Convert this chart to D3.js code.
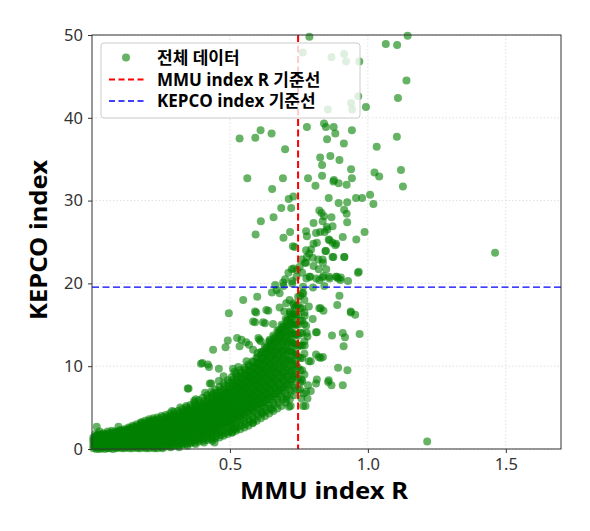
<!DOCTYPE html>
<html lang="ko">
<head>
<meta charset="utf-8">
<title>MMU index R vs KEPCO index</title>
<script src="https://cdn.jsdelivr.net/npm/d3@7"></script>
<style>
  body { margin: 0; background: #fff; }
  svg { display: block; }
  .tick text { font-family: "Noto Sans", "DejaVu Sans", sans-serif; font-size: 16.5px; fill: #333; }
</style>
</head>
<body>
<svg id="chart" width="590" height="531"></svg>
<script>
// axis settings
var xTicks = [0.5, 1.0, 1.5],
    yTicks = [0, 10, 20, 30, 40, 50];
var mmuThreshold = 0.747,
    kepcoThreshold = 19.55;
var legendLabels = ["전체 데이터", "MMU index R 기준선", "KEPCO index 기준선"];

// dense band: [x, [y values...]] read column by column
var bandCols = [
  [0.005, [0.1, 0.4, 0.8, 1.1, 1.4]],
  [0.02, [0.2, 0.5, 0.9, 1.2, 1.5, 1.7]],
  [0.035, [0.1, 0.4, 0.7, 1.0, 1.3, 1.6]],
  [0.05, [0.2, 0.5, 0.9, 1.2, 1.5, 1.8]],
  [0.065, [0.1, 0.4, 0.8, 1.1, 1.4, 1.7]],
  [0.08, [0.3, 0.6, 0.9, 1.3, 1.6, 1.9]],
  [0.095, [0.2, 0.5, 0.8, 1.2, 1.5, 1.8, 2.1]],
  [0.11, [0.3, 0.6, 1.0, 1.3, 1.7, 2.0]],
  [0.125, [0.2, 0.5, 0.9, 1.2, 1.6, 1.9, 2.2]],
  [0.14, [0.4, 0.7, 1.0, 1.4, 1.8, 2.1, 2.4]],
  [0.155, [0.3, 0.6, 1.0, 1.3, 1.7, 2.0, 2.3]],
  [0.17, [0.5, 0.8, 1.2, 1.5, 1.9, 2.2, 2.6]],
  [0.185, [0.4, 0.7, 1.1, 1.5, 1.8, 2.2, 2.5]],
  [0.2, [0.6, 0.9, 1.3, 1.6, 2.0, 2.4, 2.8]],
  [0.215, [0.5, 0.8, 1.2, 1.6, 2.0, 2.3, 2.7, 3.0]],
  [0.23, [0.7, 1.0, 1.4, 1.8, 2.1, 2.5, 2.9]],
  [0.245, [0.6, 1.0, 1.3, 1.7, 2.1, 2.5, 2.9, 3.2]],
  [0.26, [0.8, 1.1, 1.5, 1.9, 2.3, 2.7, 3.1]],
  [0.275, [0.9, 1.2, 1.6, 2.0, 2.4, 2.8, 3.2, 3.5]],
  [0.29, [1.0, 1.4, 1.8, 2.2, 2.6, 3.0, 3.4]],
  [0.305, [1.1, 1.5, 1.9, 2.3, 2.7, 3.1, 3.5, 3.9]],
  [0.32, [1.2, 1.6, 2.0, 2.4, 2.8, 3.2, 3.6, 4.0]],
  [0.335, [1.4, 1.8, 2.2, 2.6, 3.0, 3.4, 3.8, 4.2]],
  [0.35, [1.5, 1.9, 2.3, 2.7, 3.1, 3.5, 3.9, 4.4]],
  [0.365, [1.7, 2.1, 2.5, 2.9, 3.3, 3.7, 4.1, 4.6]],
  [0.38, [1.9, 2.3, 2.7, 3.1, 3.5, 3.9, 4.3, 4.8]],
  [0.395, [2.0, 2.4, 2.8, 3.2, 3.6, 4.0, 4.5, 5.0]],
  [0.41, [2.2, 2.6, 3.0, 3.4, 3.8, 4.2, 4.7, 5.2]],
  [0.425, [2.4, 2.8, 3.2, 3.6, 4.0, 4.5, 5.0, 5.5]],
  [0.44, [2.6, 3.0, 3.4, 3.8, 4.3, 4.8, 5.3, 5.8]],
  [0.455, [2.8, 3.2, 3.6, 4.1, 4.6, 5.1, 5.6, 6.1]],
  [0.47, [3.0, 3.4, 3.9, 4.4, 4.9, 5.4, 5.9, 6.4]],
  [0.485, [3.2, 3.7, 4.2, 4.7, 5.2, 5.7, 6.2, 6.8]],
  [0.5, [3.4, 3.9, 4.4, 4.9, 5.4, 6.0, 6.6, 7.2]],
  [0.515, [3.7, 4.2, 4.7, 5.2, 5.8, 6.4, 7.0, 7.6]],
  [0.53, [3.9, 4.4, 5.0, 5.6, 6.2, 6.8, 7.4, 8.0]],
  [0.545, [4.2, 4.7, 5.3, 5.9, 6.5, 7.1, 7.8, 8.5]],
  [0.56, [4.5, 5.0, 5.6, 6.2, 6.8, 7.5, 8.2, 8.9]],
  [0.575, [4.8, 5.4, 6.0, 6.6, 7.2, 7.9, 8.6, 9.4]],
  [0.59, [5.1, 5.7, 6.3, 7.0, 7.7, 8.4, 9.1, 9.9]],
  [0.605, [5.4, 6.0, 6.7, 7.4, 8.1, 8.8, 9.6, 10.4]],
  [0.62, [5.6, 6.3, 7.0, 7.8, 8.6, 9.4, 10.2, 11.0, 11.8]],
  [0.635, [6.0, 6.7, 7.5, 8.3, 9.1, 9.9, 10.7, 11.5, 12.3]],
  [0.65, [6.3, 7.1, 7.9, 8.7, 9.5, 10.3, 11.1, 11.9, 12.7]],
  [0.665, [6.6, 7.4, 8.3, 9.2, 10.1, 11.0, 11.9, 12.8, 13.4]],
  [0.68, [7.0, 7.8, 8.7, 9.6, 10.5, 11.4, 12.3, 13.2, 14.0]],
  [0.695, [7.4, 8.3, 9.2, 10.1, 11.0, 12.0, 13.0, 14.0, 14.8]],
  [0.71, [7.8, 8.8, 9.8, 10.8, 11.8, 12.8, 13.8, 14.8, 15.6]],
  [0.725, [8.4, 9.5, 10.6, 11.7, 12.8, 13.9, 15.0, 16.0]],
  [0.74, [9.0, 10.2, 11.4, 12.6, 13.8, 15.0, 16.2, 17.2]],
  [0.755, [8.0, 9.5, 11.0, 12.5, 14.0, 15.5, 17.0, 18.5]],
  [0.77, [9.0, 11.5, 13.0, 16.5, 18.0]]
];

// second pass of columns between the first ones (wider spread of the band)
var bandColsMid = [
  [0.012, [0.2, 0.6, 1.0, 1.4, 1.8]],
  [0.027, [0.0, 0.5, 0.9, 1.3, 1.7, 2.1]],
  [0.042, [0.3, 0.7, 1.1, 1.5, 1.9]],
  [0.057, [0.1, 0.5, 0.9, 1.3, 1.7, 2.1]],
  [0.072, [0.3, 0.7, 1.1, 1.5, 1.9, 2.2]],
  [0.087, [0.1, 0.5, 0.9, 1.3, 1.7, 2.1]],
  [0.102, [0.3, 0.7, 1.1, 1.5, 1.9, 2.3]],
  [0.117, [0.1, 0.5, 0.9, 1.3, 1.7, 2.1, 2.4]],
  [0.132, [0.3, 0.7, 1.1, 1.5, 1.9, 2.3, 2.6]],
  [0.147, [0.1, 0.5, 0.9, 1.3, 1.7, 2.1, 2.5, 2.8]],
  [0.162, [0.2, 0.6, 1.0, 1.4, 1.8, 2.2, 2.6, 3.0]],
  [0.177, [0.1, 0.5, 0.9, 1.3, 1.7, 2.1, 2.5, 2.9, 3.2]],
  [0.192, [0.2, 0.6, 1.0, 1.4, 1.8, 2.2, 2.6, 3.0, 3.4]],
  [0.207, [0.1, 0.5, 0.9, 1.3, 1.7, 2.1, 2.5, 2.9, 3.3, 3.6]],
  [0.222, [0.2, 0.6, 1.0, 1.4, 1.8, 2.2, 2.6, 3.0, 3.4, 3.7]],
  [0.237, [0.1, 0.5, 0.9, 1.3, 1.7, 2.1, 2.5, 2.9, 3.3, 3.8]],
  [0.252, [0.2, 0.6, 1.0, 1.4, 1.8, 2.2, 2.6, 3.0, 3.5, 4.0]],
  [0.267, [0.3, 0.7, 1.1, 1.5, 1.9, 2.3, 2.7, 3.1, 3.6, 4.1]],
  [0.282, [0.3, 0.7, 1.1, 1.5, 1.9, 2.4, 2.8, 3.2, 3.7, 4.3]],
  [0.297, [0.4, 0.8, 1.2, 1.6, 2.0, 2.5, 2.9, 3.4, 3.9, 4.5]],
  [0.312, [0.4, 0.8, 1.2, 1.7, 2.1, 2.6, 3.0, 3.5, 4.0, 4.6]],
  [0.327, [0.5, 0.9, 1.3, 1.8, 2.2, 2.7, 3.2, 3.7, 4.2, 4.8]],
  [0.342, [0.6, 1.0, 1.4, 1.9, 2.4, 2.9, 3.4, 3.9, 4.4, 5.0]],
  [0.357, [0.7, 1.1, 1.6, 2.1, 2.6, 3.1, 3.6, 4.1, 4.6, 5.3]],
  [0.372, [0.8, 1.3, 1.8, 2.3, 2.8, 3.3, 3.8, 4.3, 4.9, 5.6]],
  [0.387, [0.9, 1.4, 1.9, 2.4, 2.9, 3.5, 4.0, 4.6, 5.2, 5.9]],
  [0.402, [1.0, 1.5, 2.0, 2.6, 3.1, 3.7, 4.3, 4.9, 5.5, 6.2]],
  [0.417, [1.1, 1.6, 2.2, 2.8, 3.4, 4.0, 4.6, 5.2, 5.8, 6.5]],
  [0.432, [1.2, 1.8, 2.4, 3.0, 3.6, 4.2, 4.8, 5.5, 6.2, 6.9]],
  [0.447, [1.3, 1.9, 2.5, 3.1, 3.8, 4.4, 5.1, 5.8, 6.5, 7.2]],
  [0.462, [1.4, 2.0, 2.7, 3.3, 4.0, 4.7, 5.4, 6.1, 6.8, 7.5]],
  [0.477, [1.6, 2.2, 2.9, 3.6, 4.3, 5.0, 5.7, 6.4, 7.1, 7.9]],
  [0.492, [1.8, 2.5, 3.2, 3.9, 4.6, 5.3, 6.0, 6.8, 7.5, 8.3]],
  [0.507, [2.0, 2.7, 3.4, 4.1, 4.9, 5.6, 6.4, 7.2, 8.0, 8.7]],
  [0.522, [2.2, 2.9, 3.7, 4.4, 5.2, 6.0, 6.8, 7.6, 8.4, 9.1]],
  [0.537, [2.4, 3.2, 4.0, 4.8, 5.6, 6.4, 7.2, 8.0, 8.8, 9.5]],
  [0.552, [2.6, 3.4, 4.2, 5.1, 5.9, 6.7, 7.5, 8.3, 9.1, 9.8]],
  [0.567, [2.8, 3.6, 4.5, 5.4, 6.2, 7.0, 7.9, 8.7, 9.5, 10.2]],
  [0.582, [3.1, 3.9, 4.8, 5.7, 6.6, 7.5, 8.3, 9.1, 9.9, 10.6]],
  [0.597, [3.4, 4.3, 5.2, 6.1, 7.0, 7.9, 8.8, 9.6, 10.4, 11.1]],
  [0.612, [3.7, 4.6, 5.5, 6.4, 7.4, 8.3, 9.2, 10.1, 11.0, 11.7]],
  [0.627, [4.0, 5.0, 5.9, 6.9, 7.8, 8.8, 9.7, 10.6, 11.5, 12.4]],
  [0.642, [4.3, 5.3, 6.3, 7.3, 8.3, 9.3, 10.3, 11.2, 12.1, 13.0]],
  [0.657, [4.6, 5.6, 6.6, 7.7, 8.7, 9.8, 10.8, 11.8, 12.8, 13.7]],
  [0.672, [4.9, 6.0, 7.0, 8.1, 9.2, 10.3, 11.4, 12.4, 13.4, 14.3]],
  [0.687, [5.2, 6.3, 7.4, 8.6, 9.7, 10.8, 11.9, 13.0, 14.0, 15.0]],
  [0.702, [5.6, 6.7, 7.9, 9.1, 10.3, 11.4, 12.5, 13.6, 14.7, 15.7]],
  [0.717, [6.0, 7.2, 8.4, 9.6, 10.8, 12.0, 13.2, 14.3, 15.4, 16.4]],
  [0.732, [6.5, 7.7, 9.0, 10.3, 11.6, 12.8, 14.0, 15.2, 16.3, 17.4]],
  [0.747, [7.2, 8.5, 9.8, 11.1, 12.4, 13.7, 15.0, 16.2, 17.4, 18.4]],
  [0.762, [8.2, 9.5, 11.0, 12.5, 14.0, 15.5, 17.0]]
];

// third pass, filling the gaps so the core reads as solid
var bandColsFill = [
  [0.016, [0.0, 0.3, 0.7, 1.2, 1.6]],
  [0.031, [0.2, 0.6, 1.0, 1.4, 1.8]],
  [0.046, [0.0, 0.4, 0.8, 1.3, 1.7]],
  [0.061, [0.2, 0.6, 1.0, 1.5, 1.9]],
  [0.076, [0.0, 0.4, 0.8, 1.2, 1.7, 2.0]],
  [0.091, [0.2, 0.6, 1.0, 1.4, 1.9]],
  [0.106, [0.1, 0.5, 0.9, 1.3, 1.7, 2.2]],
  [0.121, [0.3, 0.7, 1.1, 1.5, 1.9, 2.3]],
  [0.136, [0.1, 0.5, 0.9, 1.3, 1.7, 2.1, 2.5]],
  [0.151, [0.3, 0.7, 1.1, 1.5, 1.9, 2.3, 2.7]],
  [0.166, [0.1, 0.4, 0.8, 1.2, 1.6, 2.0, 2.4, 2.8]],
  [0.181, [0.3, 0.7, 1.1, 1.5, 1.9, 2.3, 2.7, 3.0]],
  [0.196, [0.1, 0.4, 0.8, 1.2, 1.6, 2.0, 2.4, 2.8, 3.2]],
  [0.211, [0.3, 0.7, 1.1, 1.5, 1.9, 2.3, 2.7, 3.1, 3.4]],
  [0.226, [0.1, 0.4, 0.8, 1.2, 1.6, 2.0, 2.4, 2.8, 3.2, 3.5]],
  [0.241, [0.3, 0.7, 1.1, 1.5, 1.9, 2.3, 2.7, 3.1, 3.6]],
  [0.256, [0.1, 0.4, 0.8, 1.2, 1.6, 2.0, 2.4, 2.8, 3.3, 3.8]],
  [0.271, [0.5, 0.9, 1.3, 1.7, 2.1, 2.5, 2.9, 3.4, 3.9]],
  [0.286, [0.2, 0.5, 0.9, 1.3, 1.7, 2.1, 2.6, 3.0, 3.5, 4.0]],
  [0.301, [0.6, 1.0, 1.4, 1.8, 2.2, 2.7, 3.1, 3.6, 4.2]],
  [0.316, [0.2, 0.6, 1.0, 1.5, 1.9, 2.3, 2.8, 3.3, 3.8, 4.3]],
  [0.331, [0.7, 1.1, 1.6, 2.0, 2.5, 3.0, 3.5, 4.0, 4.5]],
  [0.346, [0.4, 0.8, 1.2, 1.7, 2.2, 2.6, 3.1, 3.6, 4.2, 4.7]],
  [0.361, [0.9, 1.4, 1.9, 2.4, 2.9, 3.4, 3.9, 4.4, 5.0]],
  [0.376, [0.6, 1.1, 1.6, 2.1, 2.6, 3.1, 3.6, 4.1, 4.6, 5.2]],
  [0.391, [1.2, 1.7, 2.2, 2.7, 3.2, 3.7, 4.3, 4.9, 5.5]],
  [0.406, [0.8, 1.3, 1.8, 2.3, 2.9, 3.4, 4.0, 4.6, 5.2, 5.8]],
  [0.421, [1.4, 1.9, 2.5, 3.1, 3.7, 4.3, 4.9, 5.5, 6.1]],
  [0.436, [1.0, 1.5, 2.1, 2.7, 3.3, 3.9, 4.5, 5.2, 5.9, 6.5]],
  [0.451, [1.6, 2.2, 2.8, 3.5, 4.1, 4.8, 5.5, 6.2, 6.8]],
  [0.466, [1.7, 2.3, 3.0, 3.7, 4.3, 5.0, 5.7, 6.4, 7.1]],
  [0.481, [1.9, 2.6, 3.3, 4.0, 4.7, 5.4, 6.1, 6.8, 7.6]],
  [0.496, [2.1, 2.8, 3.5, 4.2, 5.0, 5.7, 6.5, 7.2, 8.0]],
  [0.511, [2.4, 3.1, 3.8, 4.6, 5.3, 6.1, 6.9, 7.7, 8.4]],
  [0.526, [2.6, 3.3, 4.1, 4.9, 5.6, 6.4, 7.2, 8.0, 8.8]],
  [0.541, [2.8, 3.6, 4.4, 5.2, 6.0, 6.9, 7.7, 8.5, 9.2]],
  [0.556, [3.0, 3.9, 4.7, 5.5, 6.4, 7.3, 8.1, 8.9, 9.6]],
  [0.571, [3.3, 4.2, 5.0, 5.9, 6.8, 7.7, 8.5, 9.3, 10.0]],
  [0.586, [3.6, 4.5, 5.4, 6.3, 7.2, 8.1, 9.0, 9.8, 10.5]],
  [0.601, [4.0, 4.9, 5.8, 6.7, 7.6, 8.5, 9.4, 10.3, 11.0]],
  [0.616, [4.3, 5.2, 6.2, 7.1, 8.1, 9.0, 9.9, 10.8, 11.6]],
  [0.631, [4.6, 5.6, 6.6, 7.6, 8.6, 9.5, 10.5, 11.4, 12.2]],
  [0.646, [4.9, 6.0, 7.0, 8.0, 9.0, 10.0, 11.0, 12.0, 12.9]],
  [0.661, [5.3, 6.3, 7.4, 8.5, 9.5, 10.6, 11.6, 12.6, 13.5]],
  [0.676, [5.6, 6.7, 7.8, 8.9, 10.0, 11.1, 12.2, 13.2, 14.1]],
  [0.691, [6.0, 7.1, 8.3, 9.4, 10.6, 11.7, 12.8, 13.8, 14.8]],
  [0.706, [6.4, 7.6, 8.8, 10.0, 11.2, 12.3, 13.4, 14.5, 15.5]],
  [0.721, [6.9, 8.1, 9.3, 10.6, 11.8, 13.0, 14.1, 15.2, 16.2]],
  [0.736, [7.4, 8.7, 10.0, 11.3, 12.6, 13.8, 15.0, 16.0, 17.0]]
];

// scattered points outside the band: [MMU index R, KEPCO index]
var sparsePoints = [
  [0.788, 49.8], [1.065, 48.9], [1.106, 48.8], [1.144, 49.9], [0.764, 47.9], [0.868, 47.3],
  [0.914, 47.7], [0.921, 46.8], [0.969, 46.8], [1.14, 44.5], [1.109, 42.4], [0.965, 42.6],
  [0.939, 41.8], [0.943, 41.0], [0.993, 41.3], [0.855, 41.0], [0.779, 38.9], [0.841, 39.3],
  [0.848, 38.9], [0.876, 38.9], [0.882, 38.1], [0.852, 37.4], [0.942, 38.5], [0.913, 36.9],
  [1.105, 37.7], [1.032, 36.5], [0.535, 37.5], [0.592, 37.6], [0.611, 38.5], [0.651, 38.1],
  [0.700, 36.2], [0.827, 35.2], [0.864, 35.4], [0.897, 34.9], [0.834, 34.3], [0.939, 33.8],
  [1.120, 33.7], [1.024, 33.4], [1.041, 32.9], [0.563, 32.7], [0.692, 32.7], [0.783, 32.7],
  [0.834, 33.0], [0.877, 32.5], [0.942, 32.7], [1.127, 31.7], [1.008, 30.7], [1.020, 29.6],
  [0.979, 30.3], [0.957, 30.3], [0.988, 26.2], [0.958, 25.3], [0.964, 21.3], [1.461, 23.7],
  [0.923, 31.9], [0.810, 31.8], [0.875, 32.3], [0.894, 32.1], [0.858, 30.3], [0.824, 28.8],
  [0.832, 28.5], [0.841, 28.1], [0.868, 28.0], [0.894, 29.7], [0.925, 29.8], [0.914, 28.9],
  [0.923, 28.4], [0.925, 27.4], [0.803, 27.3], [0.836, 27.5], [0.776, 26.3], [0.851, 26.8],
  [0.872, 26.9], [0.909, 25.6], [0.812, 26.1], [0.827, 26.2], [0.872, 24.9], [0.882, 24.6],
  [0.858, 25.3], [0.848, 23.9], [0.872, 23.2], [0.914, 23.2], [0.776, 24.0], [0.800, 23.1],
  [0.836, 22.9], [0.803, 22.1], [0.776, 22.5], [0.860, 20.8], [0.885, 20.8], [0.892, 20.6],
  [0.901, 20.4], [0.928, 20.3], [0.762, 21.3], [0.788, 20.8], [0.824, 20.4], [0.836, 20.7],
  [0.897, 18.5], [0.889, 17.4], [0.829, 17.0], [0.839, 16.7], [0.786, 17.2], [0.938, 16.6],
  [0.954, 16.2], [0.653, 31.4], [0.686, 29.1], [0.722, 29.1], [0.713, 30.2], [0.730, 30.5],
  [0.658, 28.0], [0.612, 27.5], [0.593, 25.9], [0.694, 25.5], [0.718, 26.2], [0.728, 24.5],
  [0.735, 24.4], [0.843, 26.2], [0.853, 26.5], [0.779, 25.7], [0.885, 24.8], [0.861, 25.2],
  [0.803, 24.8], [0.815, 24.9], [0.794, 24.1], [0.787, 23.6], [0.779, 23.2], [0.846, 23.9],
  [0.875, 23.2], [0.915, 23.2], [0.760, 22.9], [0.772, 22.5], [0.753, 22.0], [0.743, 21.6],
  [0.820, 22.9], [0.837, 22.5], [0.849, 21.7], [0.822, 21.7], [0.731, 21.8], [0.724, 21.7],
  [0.712, 21.3], [0.741, 20.8], [0.726, 20.3], [0.700, 20.5], [0.693, 20.1], [0.664, 19.8],
  [0.669, 19.2], [0.652, 18.9], [0.599, 18.4], [0.548, 18.0], [0.777, 20.6], [0.791, 20.8],
  [0.813, 20.6], [0.839, 20.9], [0.861, 20.6], [0.887, 20.8], [0.902, 20.7], [0.967, 21.4],
  [0.765, 19.6], [0.801, 19.5], [0.842, 19.7], [0.762, 18.8], [0.496, 16.4], [0.680, 18.8],
  [0.694, 19.7], [0.726, 20.0], [0.716, 18.0], [0.730, 17.6], [0.680, 17.1], [0.697, 16.6],
  [0.718, 16.6], [0.639, 16.7], [0.627, 15.2], [0.591, 16.6], [0.591, 15.3], [0.766, 18.8],
  [0.771, 16.1], [0.824, 17.0], [0.938, 16.5], [0.970, 13.9], [0.909, 14.0], [0.917, 13.5],
  [0.912, 12.4], [0.870, 13.7], [0.815, 14.1], [0.776, 14.9], [0.781, 13.6], [0.771, 12.5],
  [0.793, 10.6], [0.829, 11.0], [0.837, 11.1], [0.892, 9.8], [0.926, 9.5], [0.856, 8.1],
  [0.868, 7.7], [0.909, 7.7], [0.815, 8.4], [0.783, 7.7], [0.793, 7.0], [0.767, 6.7],
  [0.765, 5.2], [0.439, 12.0], [0.484, 12.3], [0.492, 13.1], [0.526, 13.4], [0.542, 13.2],
  [0.559, 12.9], [0.569, 12.6], [0.603, 13.4], [0.612, 13.0], [0.644, 13.2], [0.395, 10.3],
  [0.424, 9.9], [0.460, 9.7], [0.477, 8.8], [0.511, 9.7], [0.516, 9.3], [0.347, 7.3],
  [0.376, 6.0], [0.427, 7.9], [0.439, 6.7], [0.408, 5.2], [0.342, 5.2], [0.017, 2.7],
  [0.096, 2.7], [0.448, 2.3], [0.506, 2.7], [0.508, 2.0], [0.444, 0.8], [0.584, 3.2],
  [0.714, 5.1], [0.800, 15.7], [0.769, 15.1], [0.778, 14.0], [0.812, 14.1], [0.812, 11.4],
  [0.822, 11.1], [0.786, 10.6], [0.759, 8.4], [0.754, 7.2], [0.776, 6.9], [0.858, 8.3],
  [0.812, 7.9], [0.781, 6.1], [0.774, 5.2], [0.759, 6.1], [0.535, 12.4], [0.584, 12.0],
  [0.607, 13.2], [0.595, 16.5], [0.632, 16.8], [0.704, 17.6], [0.584, 15.4], [0.620, 15.3],
  [0.656, 15.1], [0.680, 14.4], [1.215, 0.9],
  [0.18, 3.2], [0.32, 5.0], [0.35, 4.8], [0.41, 6.8], [0.432, 7.9], [0.35, 7.3],
  [0.40, 10.4], [0.42, 10.2], [0.518, 2.4], [0.62, 4.4], [0.65, 4.8], [0.72, 5.2], [0.705, 6.0],
  [0.29, 4.6], [0.37, 5.8], [0.46, 8.2], [0.53, 9.9], [0.56, 10.6], [0.60, 11.6]
];

var allPoints = [];
bandCols.concat(bandColsMid, bandColsFill).forEach(function(c) {
  c[1].forEach(function(y) { allPoints.push([c[0], y]); });
});
allPoints = allPoints.concat(sparsePoints);

var svg = d3.select("#chart"),
    margin = {left: 92, top: 35, right: 29, bottom: 82},
    width = 590 - margin.left - margin.right,
    height = 531 - margin.top - margin.bottom;

var x = d3.scaleLinear().domain([0, 1.7]).range([0, width]),
    y = d3.scaleLinear().domain([0, 50]).range([height, 0]);

var g = svg.append("g")
  .attr("transform", "translate(" + margin.left + "," + margin.top + ")");

// dotted grid
g.append("g")
  .selectAll("line").data(xTicks).enter().append("line")
  .attr("x1", function(d) { return x(d); }).attr("x2", function(d) { return x(d); })
  .attr("y1", 0).attr("y2", height)
  .attr("stroke", "#d8d8d8").attr("stroke-width", 0.8).attr("stroke-dasharray", "1.5,2");
g.append("g")
  .selectAll("line").data(yTicks).enter().append("line")
  .attr("x1", 0).attr("x2", width)
  .attr("y1", function(d) { return y(d); }).attr("y2", function(d) { return y(d); })
  .attr("stroke", "#d8d8d8").attr("stroke-width", 0.8).attr("stroke-dasharray", "1.5,2");

// points
g.append("g").selectAll("circle")
  .data(allPoints).enter().append("circle")
  .attr("cx", function(d) { return x(d[0]); })
  .attr("cy", function(d) { return y(d[1]); })
  .attr("r", 4)
  .attr("fill", "#008000")
  .attr("fill-opacity", 0.6);

// threshold lines
g.append("line")
  .attr("x1", x(mmuThreshold)).attr("x2", x(mmuThreshold))
  .attr("y1", 0).attr("y2", height)
  .attr("stroke", "#ff0000").attr("stroke-width", 2).attr("stroke-dasharray", "7,3.5");
g.append("line")
  .attr("x1", 0).attr("x2", width)
  .attr("y1", y(kepcoThreshold)).attr("y2", y(kepcoThreshold))
  .attr("stroke", "#0000ff").attr("stroke-width", 1.4).attr("stroke-dasharray", "7,3.5");

// axes
var xAxis = g.append("g")
  .attr("transform", "translate(0," + height + ")")
  .call(d3.axisBottom(x).tickValues(xTicks).tickFormat(d3.format(".1f")).tickSizeOuter(0).tickSize(4).tickPadding(5));
var yAxis = g.append("g")
  .call(d3.axisLeft(y).tickValues(yTicks).tickSizeOuter(0).tickSize(4).tickPadding(5));
[xAxis, yAxis].forEach(function(a) {
  a.select(".domain").remove();
  a.selectAll(".tick line").attr("stroke", "#333");
});

// frame
g.append("rect")
  .attr("width", width).attr("height", height)
  .attr("fill", "none").attr("stroke", "#333").attr("stroke-width", 1);

// axis labels
svg.append("text")
  .attr("x", 324).attr("y", 499)
  .attr("text-anchor", "middle")
  .attr("textLength", 168).attr("lengthAdjust", "spacingAndGlyphs")
  .style("font-family", "'Noto Sans', 'Open Sans', sans-serif")
  .style("font-size", "24px").style("font-weight", "bold")
  .text("MMU index R");
svg.append("text")
  .attr("transform", "translate(47,240) rotate(-90)")
  .attr("text-anchor", "middle")
  .attr("textLength", 160).attr("lengthAdjust", "spacingAndGlyphs")
  .style("font-family", "'Noto Sans', 'Open Sans', sans-serif")
  .style("font-size", "24px").style("font-weight", "bold")
  .text("KEPCO index");

// legend
var lg = svg.append("g").attr("transform", "translate(101,43)");
lg.append("rect")
  .attr("width", 259).attr("height", 75).attr("rx", 3)
  .attr("fill", "#fff").attr("fill-opacity", 0.8)
  .attr("stroke", "#ccc").attr("stroke-width", 1);
var rowY = [14.5, 36.5, 58];
lg.append("circle")
  .attr("cx", 25).attr("cy", rowY[0]).attr("r", 4)
  .attr("fill", "#008000").attr("fill-opacity", 0.6);
lg.append("line")
  .attr("x1", 8).attr("x2", 44).attr("y1", rowY[1]).attr("y2", rowY[1])
  .attr("stroke", "#ff0000").attr("stroke-width", 1.8).attr("stroke-dasharray", "6,3.5");
lg.append("line")
  .attr("x1", 8).attr("x2", 44).attr("y1", rowY[2]).attr("y2", rowY[2])
  .attr("stroke", "#0000ff").attr("stroke-width", 1.4).attr("stroke-dasharray", "6,3.5");
lg.selectAll("text").data(legendLabels).enter().append("text")
  .attr("x", 56)
  .attr("y", function(d, i) { return rowY[i] + 6; })
  .style("font-family", "'Open Sans', 'Noto Sans CJK KR', sans-serif")
  .style("font-size", "17px").style("font-weight", "bold")
  .text(function(d) { return d; });
</script>
</body>
</html>
